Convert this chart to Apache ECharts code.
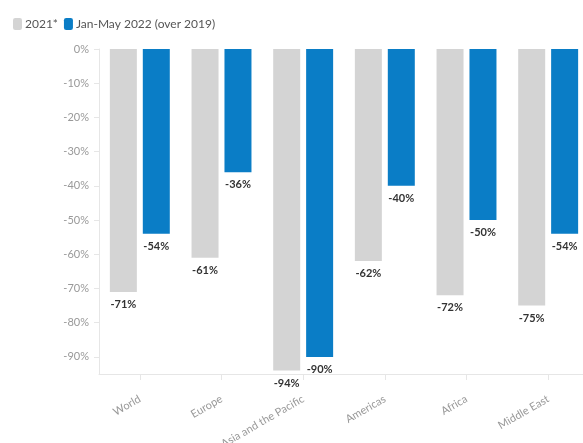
<!DOCTYPE html>
<html>
<head>
<meta charset="utf-8">
<script src="https://cdn.jsdelivr.net/npm/echarts@6/dist/echarts.min.js"></script>
<style>
html,body{margin:0;padding:0;background:#fff;}
#main{width:583px;height:443px;}
</style>
</head>
<body>
<div id="main"></div>
<script>
const categories = ['World', 'Europe', 'Asia and the Pacific', 'Americas', 'Africa', 'Middle East'];
const series2021 = [-71, -61, -94, -62, -72, -75];
const series2022 = [-54, -36, -90, -40, -50, -54];
const seriesNames = ['2021*', 'Jan-May 2022 (over 2019)'];
const yTicks = [0, -10, -20, -30, -40, -50, -60, -70, -80, -90];

const FONT = 'Lato, "Noto Sans", sans-serif';
const chart = echarts.init(document.getElementById('main'), null, {renderer: 'canvas'});
const labelStyle = {
  show: true,
  position: 'bottom',
  distance: 7,
  formatter: p => p.value + '%',
  color: '#333',
  fontWeight: 'bold',
  fontSize: 11,
  fontFamily: FONT
};
chart.setOption({
  animation: false,
  textStyle: {fontFamily: FONT},
  legend: {
    left: 8,
    top: 13,
    itemWidth: 9,
    itemHeight: 12,
    itemGap: 6,
    icon: 'roundRect',
    textStyle: {fontSize: 12, color: '#555', fontFamily: FONT, padding: [0, 0, 0, -2]},
    data: seriesNames
  },
  grid: {left: 99, right: -6, top: 49, bottom: 69, containLabel: false, outerBoundsMode: 'none'},
  xAxis: {
    type: 'category',
    data: categories,
    position: 'bottom',
    axisLine: {onZero: false, lineStyle: {color: '#e6e6e6'}},
    axisTick: {show: true, alignWithLabel: true, length: 6, lineStyle: {color: '#e6e6e6'}},
    axisLabel: {rotate: 30, margin: 24, color: '#999', fontSize: 11, fontFamily: FONT, interval: 0}
  },
  yAxis: {
    type: 'value',
    min: -95,
    max: 0,
    axisLine: {show: true, lineStyle: {color: '#e6e6e6'}},
    axisTick: {show: true, length: 5, lineStyle: {color: '#e6e6e6'}, customValues: yTicks},
    splitLine: {show: false},
    axisLabel: {
      margin: 10,
      color: '#999',
      fontSize: 11,
      fontFamily: FONT,
      customValues: yTicks,
      formatter: v => v + '%'
    }
  },
  series: [
    {
      name: seriesNames[0],
      type: 'bar',
      data: series2021,
      barWidth: 27,
      barGap: '22%',
      itemStyle: {color: '#d4d4d4'},
      label: labelStyle
    },
    {
      name: seriesNames[1],
      type: 'bar',
      data: series2022,
      barWidth: 27,
      barGap: '22%',
      itemStyle: {color: '#0a7dc6'},
      label: labelStyle
    }
  ]
});
</script>
</body>
</html>
